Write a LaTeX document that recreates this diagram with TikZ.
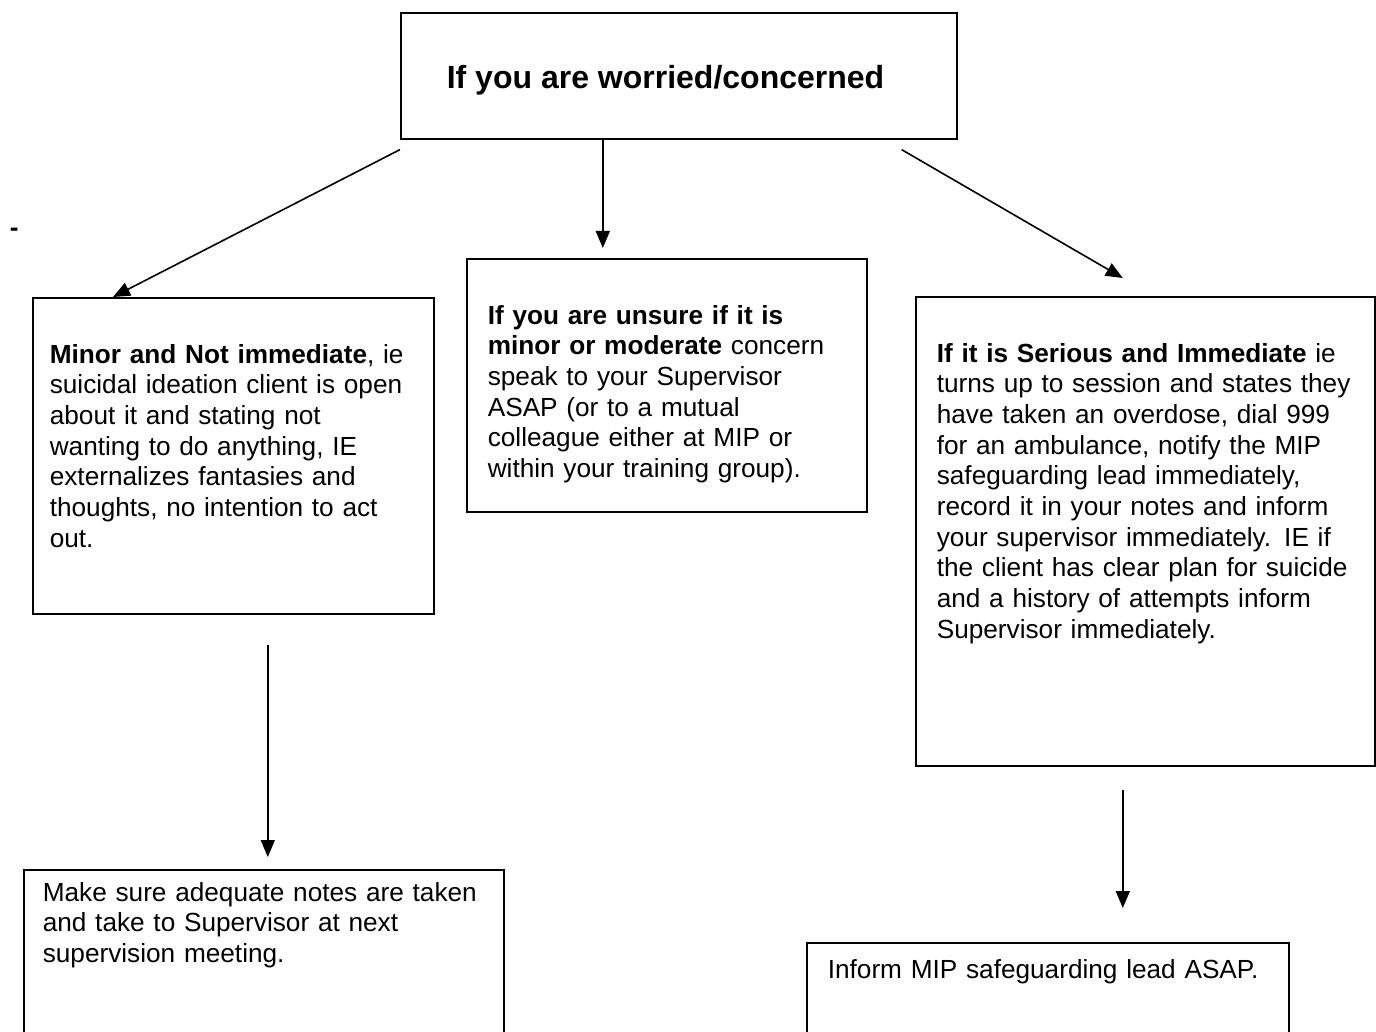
\documentclass[tikz,border=0pt]{standalone}
\usepackage{fontspec}
\setmainfont{Liberation Sans}
\usetikzlibrary{arrows.meta,positioning}
\tikzset{box/.style={draw,anchor=north west,inner sep=0pt},
  txt/.style={anchor=base west,inner sep=0pt,text width=450pt,align=left,font=\fontsize{26.2}{30.7}\selectfont},
}

\begin{document}
\begin{tikzpicture}[->,>={Triangle[length=17pt,width=14pt]},x=1pt,y=-1pt,
		line width=1.6pt]
		\useasboundingbox (0,0) rectangle (1376,1032);
		\clip (0,0) rectangle (1376,1032);
		
		\node[box,minimum width=556pt,minimum height=126pt] (worry) at (400,12) {};
		\node[box,minimum width=401pt,minimum height=316pt] (minor) at (32,297) {};
		\node[box,minimum width=400pt,minimum height=253pt] (unsure) at (466,258) {};
		\node[box,minimum width=459pt,minimum height=469pt] (serious) at (915,296) {};
		\node[box,minimum width=480pt,minimum height=220pt] (notes) at (23,869) {};
		\node[box,minimum width=482pt,minimum height=150pt] (inform) at (806,942) {};
		
		\node[anchor=base west,inner sep=0pt,font=\fontsize{32}{37}\selectfont\bfseries] (worrytxt) at (446,89) {If you are worried/concerned};
		\node[txt] (minortxt) at (49,363) {\textbf{Minor and Not immediate}, ie\\
			suicidal ideation client is open\\
			about it and stating not\\
			wanting to do anything, IE\\
			externalizes fantasies and\\
			thoughts, no intention to act\\
			out.};
		\node[txt] (unsuretxt) at (487,324) {\textbf{If you are unsure if it is}\\
			\textbf{minor or moderate} concern\\
			speak to your Supervisor\\
			ASAP (or to a mutual\\
			colleague either at MIP or\\
			within your training group).};
		\node[txt] (serioustxt) at (936,362) {\textbf{If it is Serious and Immediate} ie\\
			turns up to session and states they\\
			have taken an overdose, dial 999\\
			for an ambulance, notify the MIP\\
			safeguarding lead immediately,\\
			record it in your notes and inform\\
			your supervisor immediately. IE if\\
			the client has clear plan for suicide\\
			and a history of attempts inform\\
			Supervisor immediately.};
		\node[txt] (notestxt) at (42,901) {Make sure adequate notes are taken\\
			and take to Supervisor at next\\
			supervision meeting.};
		\node[txt] (informtxt) at (827,978) {Inform MIP safeguarding lead ASAP.};
		\node[anchor=base west,inner sep=0pt,font=\fontsize{26.2}{30.7}\selectfont\bfseries] (dash) at (9,237) {-};
		
		\draw ([yshift=-10pt]worry.south west) -- ([xshift=81pt]minor.north west);
		\draw ([xshift=-76pt]worry.south) -- ([xshift=-64pt,yshift=10pt]unsure.north);
		\draw ([xshift=-56pt,yshift=-10pt]worry.south east) -- ([xshift=-22.5pt,yshift=18pt]serious.north);
		\draw ([xshift=34.5pt,yshift=-30pt]minor.south) -- ([xshift=4pt,yshift=12pt]notes.north);
		\draw ([xshift=-22.5pt,yshift=-23pt]serious.south) -- ([xshift=75pt,yshift=34pt]inform.north);
\end{tikzpicture}
\end{document}
